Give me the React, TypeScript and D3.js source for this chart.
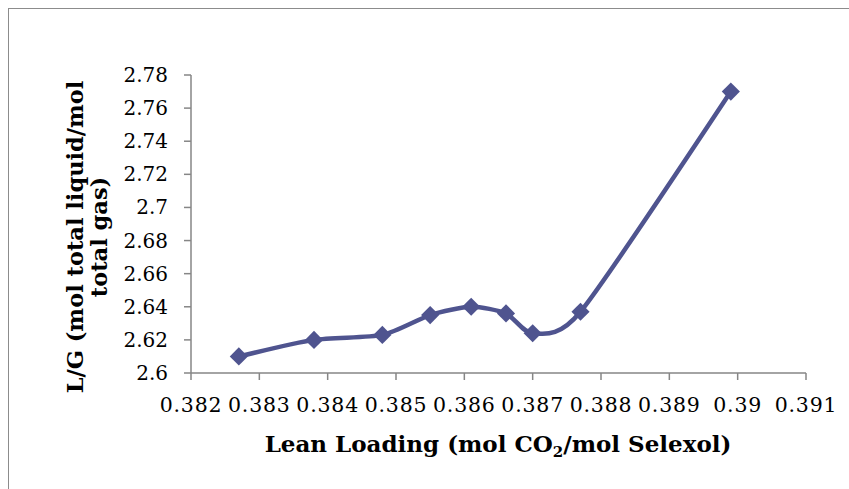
import React from "react";
import * as d3 from "d3";

const leanLoading = [0.3827, 0.3838, 0.3848, 0.3855, 0.3861, 0.38661, 0.387, 0.3877, 0.3899];
const lgRatio = [2.61, 2.62, 2.623, 2.635, 2.64, 2.636, 2.624, 2.637, 2.77];
const xTicks = [0.382, 0.383, 0.384, 0.385, 0.386, 0.387, 0.388, 0.389, 0.39, 0.391];
const yTicks = [2.6, 2.62, 2.64, 2.66, 2.68, 2.7, 2.72, 2.74, 2.76, 2.78];
const yTitleLines = ["L/G (mol total liquid/mol", "total gas)"];

const W = 849;
const H = 489;
const plot = { left: 191, right: 806, top: 75, bottom: 373 };
const axisColor = "#868686";
const lineColor = "#4F548F";
const font = "'DejaVu Serif', Georgia, serif";

export default function App() {
  const x = d3.scaleLinear().domain([0.382, 0.391]).range([plot.left, plot.right]);
  const y = d3.scaleLinear().domain([2.6, 2.78]).range([plot.bottom, plot.top]);
  const pts: [number, number][] = leanLoading.map((v, i) => [x(v), y(lgRatio[i])]);
  const line = d3.line().curve(d3.curveCardinal.tension(0.3))(pts) || "";
  const diamond = d3.symbol().type(d3.symbolDiamond2).size(210)() || "";
  const fmtX = (v: number) => d3.format(".3~f")(v);
  const fmtY = (v: number) => d3.format(".2~f")(v);

  return (
    <svg width={W} height={H} style={{ position: "absolute", left: 0, top: 0, background: "#fff" }}>
      <rect x={8.5} y={8.5} width={W + 10} height={H + 10} fill="#fff" stroke="#8c8c8c" strokeWidth={1} />
      {/* Y axis */}
      <line x1={plot.left} x2={plot.left} y1={plot.top} y2={plot.bottom} stroke={axisColor} strokeWidth={1.5} />
      {yTicks.map((t) => (
        <g key={"y" + t}>
          <line x1={plot.left - 7} x2={plot.left} y1={y(t)} y2={y(t)} stroke={axisColor} strokeWidth={1.5} />
          <text x={168} y={y(t)} dy="0.35em" textAnchor="end" fontFamily={font} fontSize={20} fill="#000">
            {fmtY(t)}
          </text>
        </g>
      ))}
      {/* X axis */}
      <line x1={plot.left} x2={plot.right} y1={plot.bottom} y2={plot.bottom} stroke={axisColor} strokeWidth={1.5} />
      {xTicks.map((t) => (
        <g key={"x" + t}>
          <line x1={x(t)} x2={x(t)} y1={plot.bottom} y2={plot.bottom + 7} stroke={axisColor} strokeWidth={1.5} />
          <text x={x(t)} y={405} dy="0.35em" textAnchor="middle" fontFamily={font} fontSize={20.5} letterSpacing={0.8} fill="#000">
            {fmtX(t)}
          </text>
        </g>
      ))}
      {/* series */}
      <path d={line} fill="none" stroke={lineColor} strokeWidth={4.5} strokeLinejoin="round" />
      {pts.map((p, i) => (
        <path key={"m" + i} d={diamond} transform={`translate(${p[0]},${p[1]})`} fill={lineColor} />
      ))}
      {/* X title */}
      <text x={498} y={452} textAnchor="middle" fontFamily={font} fontWeight="bold" fontSize={23} fill="#000">
        Lean Loading (mol CO
        <tspan fontSize={15} dy={5}>2</tspan>
        <tspan dy={-5}>/mol Selexol)</tspan>
      </text>
      {/* Y title */}
      <g transform="translate(0,237) rotate(-90)">
        {yTitleLines.map((l, i) => (
          <text key={l} x={0} y={83 + i * 24} textAnchor="middle" fontFamily={font} fontWeight="bold" fontSize={22.5} fill="#000">
            {l}
          </text>
        ))}
      </g>
    </svg>
  );
}
